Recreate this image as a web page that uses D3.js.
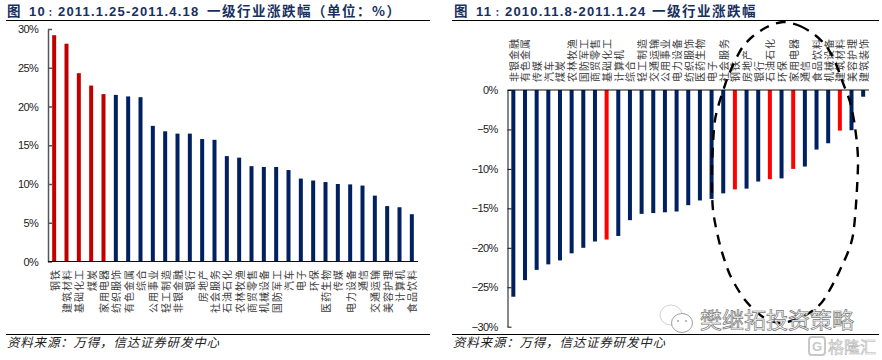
<!DOCTYPE html>
<html>
<head>
<meta charset="utf-8">
<script src="https://cdn.jsdelivr.net/npm/d3@7"></script>
<style>
  html, body { margin: 0; background: #fff; }
  svg { display: block; }
  .tick text { font-family: "Liberation Sans", Arial, sans-serif; font-size: 11px; letter-spacing: -0.7px; fill: #222; }
  .cat { font-family: "Noto Sans CJK SC", sans-serif; font-size: 10px; letter-spacing: 1px; fill: #3a3a3a; }
  .title { font-size: 13.5px; font-weight: 700; fill: #17305f; }
  .title-cjk { font-family: "Noto Sans CJK SC", sans-serif; letter-spacing: 1.5px; }
  .title-colon { font-family: "Noto Sans CJK SC", sans-serif; font-size: 9.5px; }
  .title-num { font-family: "Liberation Sans", Arial, sans-serif; font-size: 13px; letter-spacing: 1.2px; }
  .source { font-family: "Noto Sans CJK SC", sans-serif; font-size: 12.5px; letter-spacing: 0.8px; font-style: italic; fill: #222; }
  .mark { font-family: "Noto Sans CJK SC", sans-serif; fill: #fff; }
</style>
</head>
<body>
<svg id="chart" width="882" height="360"></svg>
<script>
var leftCategories = ["钢铁","建筑材料","基础化工","煤炭","家用电器","纺织服饰","有色金属","综合","公用事业","轻工制造","非银金融","银行","房地产","社会服务","石油石化","农林牧渔","商贸零售","机械设备","国防军工","汽车","电子","环保","医药生物","传媒","电力设备","通信","交通运输","美容护理","计算机","食品饮料"];
var leftValues = [29.2,28.1,24.3,22.7,21.6,21.5,21.3,21.2,17.5,16.8,16.5,16.5,15.8,15.7,13.6,13.4,12.3,12.2,12.2,11.8,10.7,10.45,10.25,10.0,9.95,9.8,8.5,7.15,7.0,6.1];
var leftRed = ["钢铁","建筑材料","基础化工","煤炭","家用电器"];
var leftTicks = [0,5,10,15,20,25,30];

var rightCategories = ["非银金融","有色金属","传媒","汽车","煤炭","农林牧渔","国防军工","商贸零售","基础化工","计算机","综合","轻工制造","交通运输","公用事业","电力设备","纺织服饰","医药生物","电子","社会服务","钢铁","房地产","银行","石油石化","环保","家用电器","通信","食品饮料","机械设备","建筑材料","美容护理","建筑装饰"];
var rightValues = [-26.2,-24.1,-22.8,-22.1,-21.6,-20.7,-20.0,-19.2,-18.95,-18.5,-16.5,-15.7,-15.6,-15.5,-15.4,-14.6,-14.0,-13.8,-13.1,-12.6,-12.5,-11.6,-11.3,-11.2,-10.0,-9.7,-7.55,-6.75,-5.15,-5.1,-0.85];
var rightRed = ["基础化工","钢铁","石油石化","家用电器","建筑材料"];
var rightTicks = [0,-5,-10,-15,-20,-25,-30];

// hand-drawn dashed loop on the right chart
var loopPoints = [[783,22],[800,26],[815,35],[827,47],[836,64],[843,83],[850,102],[855,127],[858,165],[853,235],[840,270],[825,298],[815,309],[800,318],[780,323],[763,317],[745,300],[730,275],[720,245],[713,210],[712,170],[715,120],[725,85],[733,65],[742,48],[752,37],[767,27]];

var svg = d3.select("#chart");

function drawBars(opts) {
  var x = d3.scaleBand().domain(opts.categories).range(opts.xRange);
  var y = d3.scaleLinear().domain(opts.yDomain).range(opts.yRange);
  var g = svg.append("g");

  g.selectAll(".bar")
    .data(opts.values)
    .enter()
    .append("rect")
      .classed("bar", true)
      .attr("x", (d, i) => x(opts.categories[i]) + x.bandwidth() / 2 - 2)
      .attr("width", 4)
      .attr("y", d => Math.min(y(d), y(0)))
      .attr("height", d => Math.abs(y(d) - y(0)))
      .attr("fill", (d, i) => opts.red.includes(opts.categories[i]) ? opts.redColor : "#002060");

  // y axis, ticks point into the plot
  var yAxis = d3.axisLeft(y)
    .tickValues(opts.ticks)
    .tickSizeOuter(0)
    .tickFormat(d => (d < 0 ? "\u2212" + (-d) : d) + "%");
  var yg = g.append("g")
    .attr("transform", `translate(${opts.xRange[0]},0)`)
    .call(yAxis);
  yg.selectAll("line, path").attr("stroke", opts.axisColor).attr("stroke-width", opts.axisWidth);
  yg.selectAll("line").attr("x1", 4).attr("x2", 0);
  yg.selectAll("text").attr("x", -10);

  // baseline
  g.append("line")
    .attr("x1", opts.xRange[0]).attr("x2", opts.xRange[1])
    .attr("y1", y(0)).attr("y2", y(0))
    .attr("stroke", "#111").attr("stroke-width", 1.2);

  // vertical category labels
  g.selectAll(".cat")
    .data(opts.categories)
    .enter()
    .append("text")
      .classed("cat", true)
      .attr("text-anchor", opts.labelAnchor)
      .attr("dominant-baseline", "central")
      .attr("transform", d => `translate(${x(d) + x.bandwidth() / 2},${opts.labelY}) rotate(-90)`)
      .text(d => d);
}

function drawFrame(opts) {
  var title = svg.append("text").classed("title", true).attr("y", 16);
  opts.title.forEach(p => {
    title.append("tspan")
      .attr("class", p[2] || "title-cjk")
      .attr("x", p[0])
      .text(p[1]);
  });
  [20.5, 334.5].forEach(yy => {
    svg.append("line")
      .attr("x1", opts.x1).attr("x2", opts.x2).attr("y1", yy).attr("y2", yy)
      .attr("stroke", "#000").attr("stroke-width", 1);
  });
  svg.append("text").classed("source", true)
    .attr("x", opts.x1 + 1).attr("y", 347)
    .text("资料来源：万得，信达证券研发中心");
}

drawFrame({ x1: 6, x2: 430, title: [
  [7, "图"], [29, "10", "title-num"], [48, "：", "title-colon"], [58, "2011.1.25-2011.4.18", "title-num"], [207, "一级行业涨跌幅（单位：%）"]
] });
drawFrame({ x1: 452, x2: 879, title: [
  [454, "图"], [476, "11", "title-num"], [495, "：", "title-colon"], [505, "2010.11.8-2011.1.24", "title-num"], [652, "一级行业涨跌幅"]
] });

drawBars({
  categories: leftCategories, values: leftValues, red: leftRed, redColor: "#c00000",
  ticks: leftTicks, xRange: [48, 418], yDomain: [0, 30], yRange: [261.5, 29],
  axisColor: "#555", axisWidth: 1.5, labelY: 269, labelAnchor: "end"
});
drawBars({
  categories: rightCategories, values: rightValues, red: rightRed, redColor: "#ff0000",
  ticks: rightTicks, xRange: [507.5, 869], yDomain: [-30, 0], yRange: [326.7, 90],
  axisColor: "#111", axisWidth: 1, labelY: 82, labelAnchor: "start"
});

// dashed loop
svg.append("path")
  .attr("d", d3.line().curve(d3.curveCardinalClosed.tension(0.2))(loopPoints))
  .attr("fill", "none")
  .attr("stroke", "#000")
  .attr("stroke-width", 2.4)
  .attr("stroke-dasharray", "10 7.5");

// watermark, wechat bubbles then account name
var wechat = svg.append("g").attr("fill", "#fff");
wechat.append("ellipse")
  .attr("cx", 671).attr("cy", 315).attr("rx", 11).attr("ry", 10)
  .attr("stroke", "#c4c4c4").attr("stroke-width", 0.8);
wechat.append("ellipse")
  .attr("cx", 682).attr("cy", 323).attr("rx", 10.5).attr("ry", 9.5)
  .attr("stroke", "#888").attr("stroke-width", 0.8);
[[678, 321], [686, 321]].forEach(p => {
  wechat.append("circle").attr("cx", p[0]).attr("cy", p[1]).attr("r", 0.9).attr("fill", "#999");
});
svg.append("text").classed("mark", true)
  .attr("x", 700).attr("y", 328)
  .attr("font-size", 22)
  .attr("stroke", "#777").attr("stroke-width", 0.7)
  .text("樊继拓投资策略");

// watermark, bottom right logo
svg.append("rect")
  .attr("x", 809).attr("y", 337).attr("width", 16).attr("height", 18).attr("rx", 3)
  .attr("fill", "none").attr("stroke", "#c8c8c8").attr("stroke-width", 2);
svg.append("text")
  .attr("x", 817).attr("y", 351).attr("text-anchor", "middle")
  .attr("font-family", "'Liberation Sans', sans-serif").attr("font-size", 13).attr("font-weight", 700)
  .attr("fill", "#c8c8c8")
  .text("G");
svg.append("text").classed("mark", true)
  .attr("x", 828).attr("y", 353)
  .attr("font-size", 16)
  .attr("stroke", "#b4b4b4").attr("stroke-width", 0.6)
  .text("格隆汇");
</script>
</body>
</html>
